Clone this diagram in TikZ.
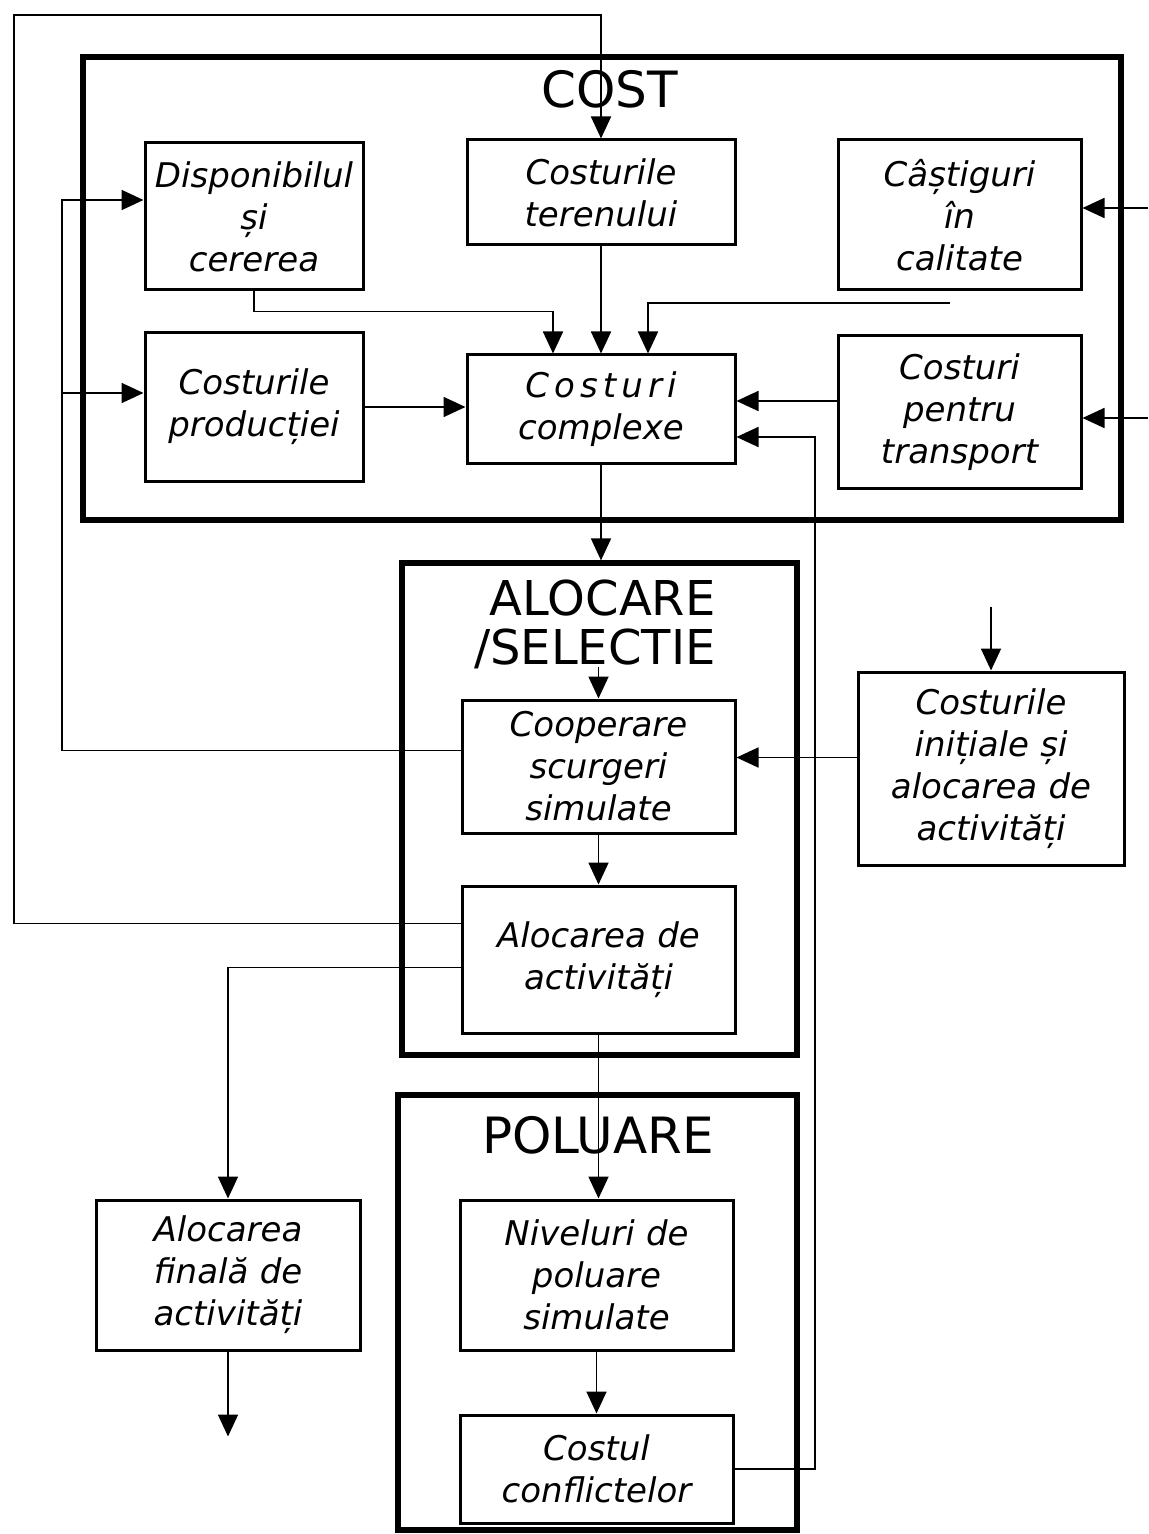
\documentclass[tikz,border=0pt]{standalone}
\usepackage{fontspec}
\setmainfont{DejaVu Sans}
\usepackage{tikz}
\usetikzlibrary{positioning,fit,calc,arrows.meta}
\tikzset{block/.style={draw, line width=1.5pt, align=center, inner sep=0pt, font=\fontsize{17}{21}\selectfont\itshape},
% every small box of the scheme, its width and height are given box by box
% the text is slanted like the lettering of the drawing
panel/.style={draw, line width=2.6pt, inner sep=0pt}, % the three big frames
heading/.style={inner sep=0pt, font=\fontsize{25}{21}\selectfont}, % the names of the frames
line/.style={line width=0.9pt, -{Triangle[length=11pt,width=10pt]}}   % all arrows of the scheme
}
\begin{document}
\begin{tikzpicture}[x=0.5pt,y=-0.5pt]
    \useasboundingbox (0,0) rectangle (1148,1534);
    \node[block, text width=109pt, minimum height=73.5pt] (disp) at (254,216.5) {Disponibilul\\și\\cererea};
    \node[block, text width=109pt, minimum height=74pt, below=20pt of disp] (prod) {Costurile\\producției};
    \node[block, text width=134pt, minimum height=52.5pt] (teren) at (601,192.5) {Costurile\\terenului};
    \node[block, text width=134pt, minimum height=54pt, below=53.5pt of teren] (compl) {{\addfontfeature{LetterSpace=15}Costuri}\\complexe};
    \node[block, text width=121.5pt, minimum height=75pt] (castig) at (959.5,215) {Câștiguri\\în\\calitate};
    \node[block, text width=121.5pt, minimum height=76pt, below=21.5pt of castig] (transp) {Costuri\\pentru\\transport};
    \node[panel, fit={(83,57) (1121,520)}] (costf) {};
    \node[heading] (costt) at (610,89) {COST};

    \node[block, text width=136.5pt, minimum height=66.5pt] (coop) at (598.5,766.5) {Cooperare\\scurgeri\\simulate};
    \node[block, text width=136.5pt, minimum height=73.5pt, below=25pt of coop] (activ) {Alocarea de\\activități};
    \node[panel, fit={(402,563) (797,1055)}] (alocf) {};
    \node[heading, font=\fontsize{24}{21}\selectfont, anchor=north east] (aloct) at (716,579) {ALOCARE};
    \node[heading, font=\fontsize{24}{21}\selectfont, anchor=north east] (selt) at ([yshift=-6pt]aloct.south east) {/SELECTIE};
    \node[block, text width=133pt, minimum height=96.5pt] (init) at (991,768.5) {Costurile\\inițiale și\\alocarea de\\activități};

    \node[block, text width=136.5pt, minimum height=75pt] (nivel) at (596.5,1275) {Niveluri de\\poluare\\simulate};
    \node[block, text width=136.5pt, minimum height=54pt, below=31pt of nivel] (confl) {Costul\\conflictelor};
    \node[panel, fit={(398,1095) (797,1530)}] (polf) {};
    \node[heading] (polt) at (598,1135) {POLUARE};
    \node[block, text width=132pt, minimum height=75pt] (final) at (228,1275) {Alocarea\\finală de\\activități};

    \coordinate (c1) at (14,15);
    \coordinate (c2) at (62,200);
    \coordinate (c3) at (62,393);
    \coordinate (c4) at (950,303);
    \coordinate (c5) at (1148,208);
    \coordinate (c6) at (1148,418);
    \coordinate (c7) at (815,437);
    \draw[line] ([yshift=18pt]activ.west) -| (c1) -| (teren.north);
    \draw[line] ([yshift=-4pt]activ.west) -| (final.north);
    \draw[line] ([yshift=8pt]coop.west) -| (c2) -- (c2 -| disp.west);
    \draw[line] (c3) -- (c3 -| prod.west);
    \draw[line] (disp.south) -- ++(0,20) -| ([xshift=-24pt]compl.north);
    \draw[line] (teren.south) -- (compl.north);
    \draw[line] (c4) -| ([xshift=23.5pt]compl.north);
    \draw[line] (prod.east) -- (prod.east -| compl.west);
    \draw[line] ($(transp.west)+(0,-11)$) -- ($(transp.west -| compl.east)+(0,-11)$);
    \draw[line] (c5) -- (c5 -| castig.east);
    \draw[line] (c6) -- (c6 -| transp.east);
    \draw[line] (confl.east) -| (c7) -- (c7 -| compl.east);
    \draw[line] (compl.south) -- (compl.south |- alocf.north);
    \draw[line] ([yshift=16pt]coop.north) -- (coop.north);
    \draw[line] (coop) -- (activ);
    \draw[line] ([yshift=32pt]init.north) -- (init.north);
    \draw[line] ($(init.west)+(0,-11)$) -- ($(init.west -| coop.east)+(0,-11)$);
    \draw[line] (activ.south) -- (activ.south |- nivel.north);
    \draw[line] (nivel) -- (confl);
    \draw[line] (final.south) -- ([yshift=-42.5pt]final.south);
  \end{tikzpicture}
\end{document}
